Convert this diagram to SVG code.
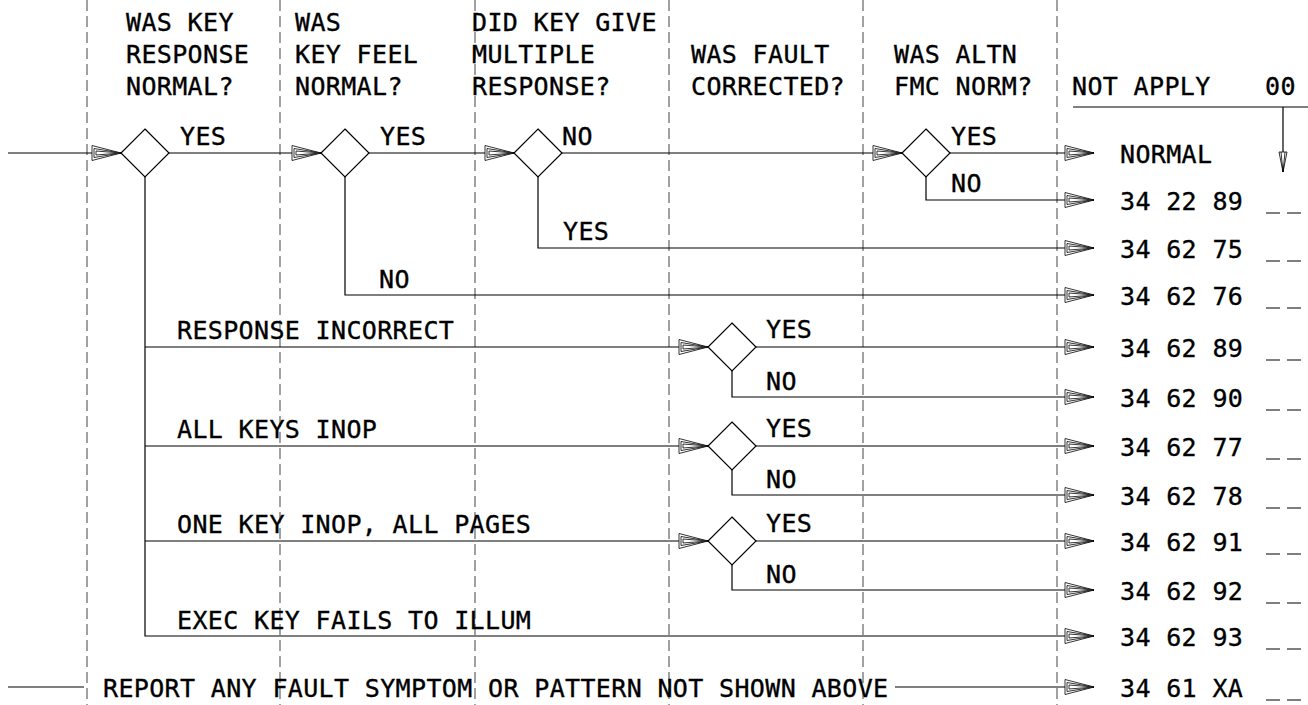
<svg xmlns="http://www.w3.org/2000/svg" xmlns:xlink="http://www.w3.org/1999/xlink" width="1308" height="705" viewBox="0 0 1308 705">
<style>
text{font-family:"DejaVu Sans Mono","Liberation Mono",monospace;font-size:25px;letter-spacing:0.35px;fill:#000;stroke:#000;stroke-width:0.35}
.ln{fill:none;stroke:#000;stroke-width:1.2}
.dash{fill:none;stroke:#555;stroke-width:1.1;stroke-dasharray:11 5}
.dia{fill:#fff;stroke:#000;stroke-width:1.2}
.ah{fill:#fff;stroke:#000;stroke-width:0.8}
.ul{stroke:#000;stroke-width:1.2}
</style>
<defs>
<g id="ah">
<path class="ah" d="M0,0 L-29,-7.5 L-29,7.5 Z"/>
<path class="ah" d="M0,0 L-27,-4.5 L-27,4.5 Z"/>
<path class="ah" d="M0,0 L-25,-2 L-25,2 Z"/>
</g>
<path id="dm" class="dia" d="M0,-24 L24,0 L0,24 L-24,0 Z"/>
</defs>
<rect width="1308" height="705" fill="#fff"/>
<g id="grid">
<line class="dash" x1="87" y1="0" x2="87" y2="705"/>
<line class="dash" x1="280" y1="0" x2="280" y2="705"/>
<line class="dash" x1="475" y1="0" x2="475" y2="705"/>
<line class="dash" x1="669" y1="0" x2="669" y2="705"/>
<line class="dash" x1="863" y1="0" x2="863" y2="705"/>
<line class="dash" x1="1057" y1="0" x2="1057" y2="705"/>
</g>
<g id="headers">
<text x="126" y="31">WAS KEY</text><text x="126" y="63">RESPONSE</text><text x="126" y="95">NORMAL?</text>
<text x="295" y="31">WAS</text><text x="295" y="63">KEY FEEL</text><text x="295" y="95">NORMAL?</text>
<text x="472" y="31">DID KEY GIVE</text><text x="472" y="63">MULTIPLE</text><text x="472" y="95">RESPONSE?</text>
<text x="691" y="63">WAS FAULT</text><text x="691" y="95">CORRECTED?</text>
<text x="894" y="63">WAS ALTN</text><text x="894" y="95">FMC NORM?</text>
<text x="1072" y="95">NOT APPLY</text><text x="1265" y="95">00</text>
</g>
<g id="connectors">
<path class="ln" d="M8,153 H121 M169,153 H321 M369,153 H514 M562,153 H902 M950,153 H1094"/>
<path class="ln" d="M926,177 V200 H1094 M538,177 V248 H1094 M345,177 V295 H1094 M145,177 V636 H1094"/>
<path class="ln" d="M145,347 H708 M145,446 H708 M145,541 H708"/>
<path class="ln" d="M756,347 H1094 M732,371 V397 H1094 M756,446 H1094 M732,470 V495 H1094 M756,541 H1094 M732,565 V590 H1094"/>
<path class="ln" d="M8,687 H84 M895,687 H1094"/>
<path class="ln" d="M1073,107 H1308 M1283,107 V172"/>
<path class="ah" d="M1283,172 L1279,152 L1287,152 Z M1283,172 L1281,152 M1283,172 L1285,152"/>
<use xlink:href="#ah" transform="translate(121,153)"/>
<use xlink:href="#ah" transform="translate(321,153)"/>
<use xlink:href="#ah" transform="translate(514,153)"/>
<use xlink:href="#ah" transform="translate(902,153)"/>
<use xlink:href="#ah" transform="translate(708,347)"/>
<use xlink:href="#ah" transform="translate(708,446)"/>
<use xlink:href="#ah" transform="translate(708,541)"/>
<use xlink:href="#ah" transform="translate(1094,153)"/>
<use xlink:href="#ah" transform="translate(1094,200)"/>
<use xlink:href="#ah" transform="translate(1094,248)"/>
<use xlink:href="#ah" transform="translate(1094,295)"/>
<use xlink:href="#ah" transform="translate(1094,347)"/>
<use xlink:href="#ah" transform="translate(1094,397)"/>
<use xlink:href="#ah" transform="translate(1094,446)"/>
<use xlink:href="#ah" transform="translate(1094,495)"/>
<use xlink:href="#ah" transform="translate(1094,541)"/>
<use xlink:href="#ah" transform="translate(1094,590)"/>
<use xlink:href="#ah" transform="translate(1094,636)"/>
<use xlink:href="#ah" transform="translate(1094,687)"/>
<text x="180" y="145">YES</text>
<text x="380" y="145">YES</text>
<text x="562" y="145">NO</text>
<text x="951" y="145">YES</text>
<text x="951" y="192">NO</text>
<text x="563" y="240">YES</text>
<text x="379" y="288">NO</text>
<text x="177" y="339">RESPONSE INCORRECT</text>
<text x="177" y="438">ALL KEYS INOP</text>
<text x="177" y="533">ONE KEY INOP, ALL PAGES</text>
<text x="177" y="629">EXEC KEY FAILS TO ILLUM</text>
<text x="766" y="338">YES</text><text x="766" y="390">NO</text>
<text x="766" y="437">YES</text><text x="766" y="488">NO</text>
<text x="766" y="532">YES</text><text x="766" y="583">NO</text>
<text x="103" y="697">REPORT ANY FAULT SYMPTOM OR PATTERN NOT SHOWN ABOVE</text>
</g>
<g id="d1"><use xlink:href="#dm" transform="translate(145,153)"/></g>
<g id="d2"><use xlink:href="#dm" transform="translate(345,153)"/></g>
<g id="d3"><use xlink:href="#dm" transform="translate(538,153)"/></g>
<g id="d4"><use xlink:href="#dm" transform="translate(926,153)"/></g>
<g id="d5"><use xlink:href="#dm" transform="translate(732,347)"/></g>
<g id="d6"><use xlink:href="#dm" transform="translate(732,446)"/></g>
<g id="d7"><use xlink:href="#dm" transform="translate(732,541)"/></g>
<g id="results">
<text x="1120" y="163">NORMAL</text>
<g id="r1"><text x="1120" y="210">34 22 89</text><path class="ul" d="M1266,213 H1280 M1287,213 H1301"/></g>
<g id="r2"><text x="1120" y="258">34 62 75</text><path class="ul" d="M1266,261 H1280 M1287,261 H1301"/></g>
<g id="r3"><text x="1120" y="305">34 62 76</text><path class="ul" d="M1266,308 H1280 M1287,308 H1301"/></g>
<g id="r4"><text x="1120" y="357">34 62 89</text><path class="ul" d="M1266,360 H1280 M1287,360 H1301"/></g>
<g id="r5"><text x="1120" y="407">34 62 90</text><path class="ul" d="M1266,410 H1280 M1287,410 H1301"/></g>
<g id="r6"><text x="1120" y="456">34 62 77</text><path class="ul" d="M1266,459 H1280 M1287,459 H1301"/></g>
<g id="r7"><text x="1120" y="505">34 62 78</text><path class="ul" d="M1266,508 H1280 M1287,508 H1301"/></g>
<g id="r8"><text x="1120" y="551">34 62 91</text><path class="ul" d="M1266,554 H1280 M1287,554 H1301"/></g>
<g id="r9"><text x="1120" y="600">34 62 92</text><path class="ul" d="M1266,603 H1280 M1287,603 H1301"/></g>
<g id="r10"><text x="1120" y="646">34 62 93</text><path class="ul" d="M1266,649 H1280 M1287,649 H1301"/></g>
<g id="r11"><text x="1120" y="697">34 61 XA</text><path class="ul" d="M1266,700 H1280 M1287,700 H1301"/></g>
</g>
</svg>
